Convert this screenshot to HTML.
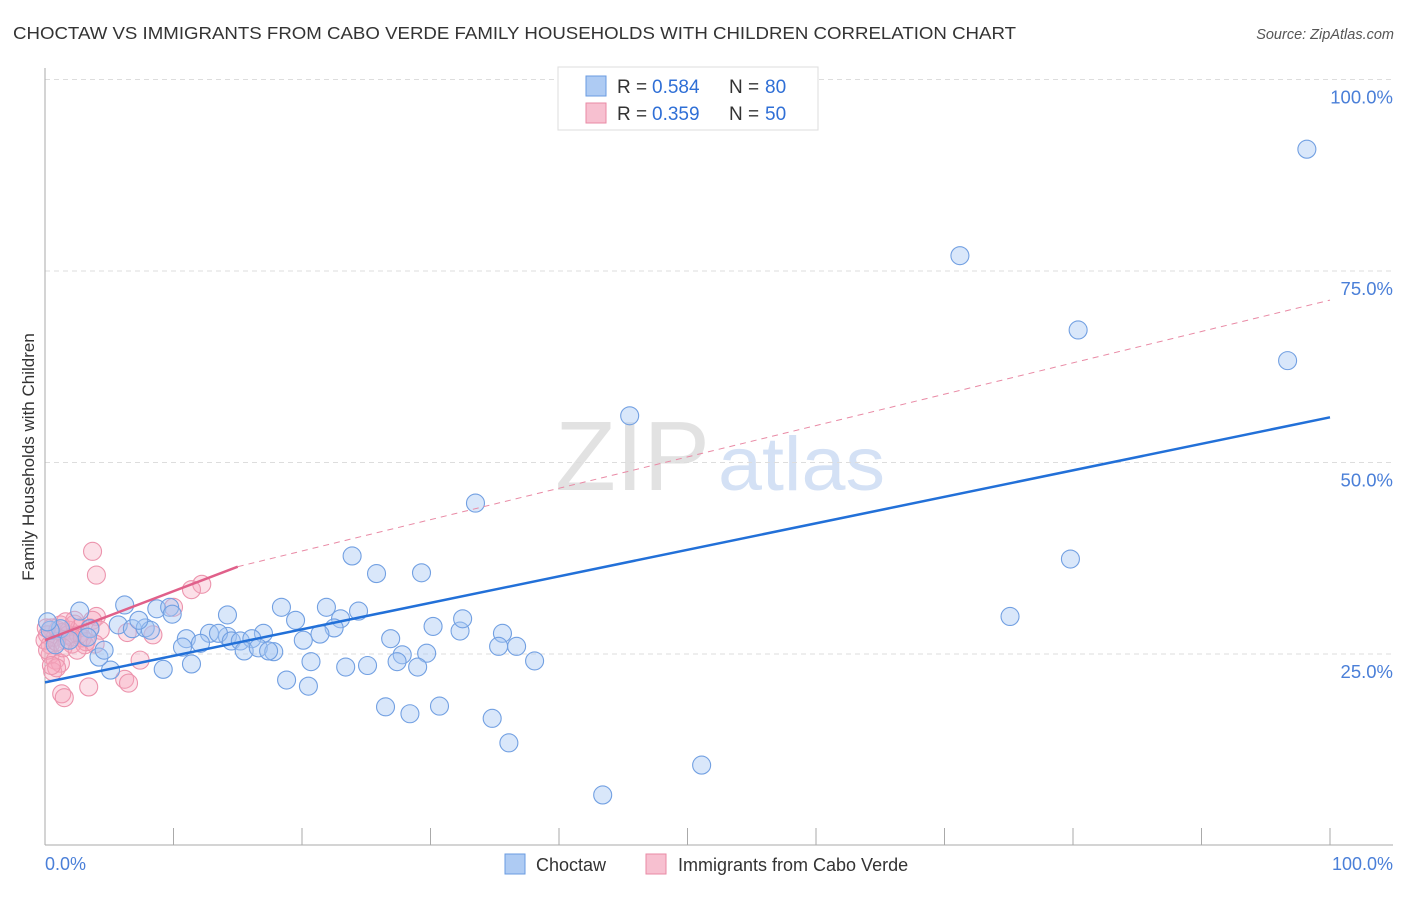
<!DOCTYPE html>
<html><head><meta charset="utf-8"><style>
body{margin:0;background:#fff;font-family:"Liberation Sans",sans-serif;}
svg text{font-family:"Liberation Sans",sans-serif;}
</style></head><body>
<svg id="chart" width="1406" height="892" xmlns="http://www.w3.org/2000/svg">
<text x="13" y="39" font-size="17.5" fill="#333" textLength="1003" lengthAdjust="spacingAndGlyphs">CHOCTAW VS IMMIGRANTS FROM CABO VERDE FAMILY HOUSEHOLDS WITH CHILDREN CORRELATION CHART</text>
<text x="1394" y="39" font-size="14.5" fill="#555" font-style="italic" text-anchor="end">Source: ZipAtlas.com</text>
<text x="555" y="490" font-size="98" fill="#e2e2e2" font-family="Liberation Serif" textLength="155" lengthAdjust="spacingAndGlyphs">ZIP</text>
<text x="718" y="490" font-size="76" fill="#d4e1f5" textLength="167" lengthAdjust="spacingAndGlyphs">atlas</text>
<g id="grid"></g>
<g id="axes"></g>
<g id="pink"></g>
<g id="blue"></g>
<g id="lines"></g>
<text transform="translate(34,457) rotate(-90)" font-size="17" fill="#333" text-anchor="middle">Family Households with Children</text>
<text x="45" y="870" font-size="18" fill="#4a7fd8">0.0%</text>
<text x="1393" y="870" font-size="18" fill="#4a7fd8" text-anchor="end">100.0%</text>
<g>
<rect x="558" y="67" width="260" height="63" fill="#fff" stroke="#ddd"/>
<rect x="586" y="76" width="20" height="20" fill="#aecbf3" stroke="#6a9be0"/>
<rect x="586" y="103" width="20" height="20" fill="#f7c0d0" stroke="#e98aa5"/>
<text x="617" y="93" font-size="19" fill="#333">R =</text>
<text x="652" y="93" font-size="19" fill="#2f6fd6">0.584</text>
<text x="729" y="93" font-size="19" fill="#333">N =</text>
<text x="765" y="93" font-size="19" fill="#2f6fd6">80</text>
<text x="617" y="120" font-size="19" fill="#333">R =</text>
<text x="652" y="120" font-size="19" fill="#2f6fd6">0.359</text>
<text x="729" y="120" font-size="19" fill="#333">N =</text>
<text x="765" y="120" font-size="19" fill="#2f6fd6">50</text>
</g>
<g>
<rect x="505" y="854" width="20" height="20" fill="#aecbf3" stroke="#6a9be0"/>
<text x="536" y="871" font-size="18" fill="#333">Choctaw</text>
<rect x="646" y="854" width="20" height="20" fill="#f7c0d0" stroke="#e98aa5"/>
<text x="678" y="871" font-size="18" fill="#333">Immigrants from Cabo Verde</text>
</g>
</svg>
<script>
const yTicks=[25,50,75,100];
const yTickLabels=["25.0%","50.0%","75.0%","100.0%"];
const xTicks=[0,10,20,30,40,50,60,70,80,90,100];
const blueX=[98.2,71.2,80.4,96.7,45.5,33.5,79.8,75.1,23.9,25.8,29.3,6.2,2.7,8.7,9.7,9.9,14.2,18.4,21.9,19.5,24.4,23.0,22.5,21.4,17.0,14.2,12.8,13.5,11.0,10.7,12.1,14.5,15.2,16.1,15.5,16.6,17.8,17.4,20.1,26.9,30.2,32.3,32.5,35.6,35.3,36.7,38.1,29.7,27.8,27.4,29.0,23.4,25.1,20.7,11.4,9.2,5.1,4.2,4.6,5.7,6.8,7.8,8.2,7.3,3.5,1.2,0.4,18.8,20.5,26.5,28.4,30.7,34.8,36.1,51.1,43.4,0.2,3.3,0.8,1.9];
const blueY=[90.9,77.0,67.3,63.3,56.1,44.7,37.4,29.9,37.8,35.5,35.6,31.4,30.6,30.9,31.1,30.2,30.1,31.1,31.1,29.4,30.6,29.6,28.4,27.6,27.7,27.3,27.7,27.7,27.0,25.9,26.4,26.7,26.7,27.0,25.4,25.8,25.3,25.4,26.8,27.0,28.6,28.0,29.6,27.7,26.0,26.0,24.1,25.1,24.9,24.0,23.3,23.3,23.5,24.0,23.7,23.0,22.9,24.6,25.5,28.8,28.3,28.4,28.1,29.4,28.3,28.3,28.1,21.6,20.8,18.1,17.2,18.2,16.6,13.4,10.5,6.6,29.2,27.2,26.2,26.8];
const pinkX=[3.7,4.0,12.2,10.0,11.4,4.0,3.7,2.3,1.2,0.5,0.2,0.8,1.3,1.9,2.7,1.6,2.1,3.1,0.4,0.4,0.8,1.2,0.6,0.9,7.4,6.2,6.5,3.4,1.3,1.5,8.4,6.4,4.3,3.5,2.6,0,0.2,1.0,1.8,2.3,2.9,3.2,1.6,2.1,0.9,0.1,1.4,2.5,0.5,3.9];
const pinkY=[38.4,35.3,34.1,31.1,33.4,29.9,29.4,29.4,28.8,28.4,27.5,27.2,27.8,28.1,28.4,26.8,26.3,26.2,26.2,24.9,24.2,23.8,22.7,23.2,24.2,21.7,21.2,20.7,19.8,19.3,27.5,27.8,28.1,28.4,27.5,26.8,25.5,28.1,27.5,28.9,27.1,26.6,29.2,27.2,26.6,28.4,25.8,25.5,23.5,26.3];
const blueTrend=[21.3,55.9];
const pinkTrend=[26.8,36.4,71.2];
const pinkSolidEnd=15;
const NS="http://www.w3.org/2000/svg";
const X=v=>45+v*12.85, Y=v=>845.5-v*7.66;
function mk(tag,attrs,parent){const e=document.createElementNS(NS,tag);for(const k in attrs)e.setAttribute(k,attrs[k]);parent.appendChild(e);return e;}
const grid=document.getElementById('grid'),axes=document.getElementById('axes');
yTicks.forEach((t,i)=>{
 const l=mk('line',{x1:45,x2:1393,y1:Y(t),y2:Y(t),stroke:'#ddd','stroke-dasharray':'5,4'},grid);
 
 
 const tx=mk('text',{x:1393,y:Y(t)+24,'font-size':18.5,fill:'#4a7fd8','text-anchor':'end'},grid);
 tx.textContent=yTickLabels[i];
 
 
});
const ya=mk('line',{x1:45,x2:45,y1:68,y2:845,stroke:'#aaa'},axes);


const xa=mk('line',{x1:45,x2:1393,y1:845,y2:845,stroke:'#aaa'},axes);


xTicks.forEach(t=>{const k=mk('line',{x1:X(t),x2:X(t),y1:828,y2:845,stroke:'#aaa'},axes);
 
 });
function dots(xs,ys,g,fill,stroke,name){xs.forEach((x,i)=>{const c=mk('circle',{cx:X(x),cy:Y(ys[i]),r:9,fill:fill,stroke:stroke,'stroke-width':1.1},g);
 
 });}
dots(pinkX,pinkY,document.getElementById('pink'),'rgba(245,165,190,0.35)','#ec94ad','cabo-verde-point');
dots(blueX,blueY,document.getElementById('blue'),'rgba(165,198,242,0.42)','#72a0e2','choctaw-point');
const lg=document.getElementById('lines');
const pd=mk('line',{x1:X(pinkSolidEnd),y1:Y(pinkTrend[1]),x2:X(100),y2:Y(pinkTrend[2]),stroke:'#e98aa5','stroke-width':1,'stroke-dasharray':'6,5'},lg);


const ps=mk('line',{x1:X(0),y1:Y(pinkTrend[0]),x2:X(pinkSolidEnd),y2:Y(pinkTrend[1]),stroke:'#e0608a','stroke-width':2.5},lg);


const bl=mk('line',{x1:X(0),y1:Y(blueTrend[0]),x2:X(100),y2:Y(blueTrend[1]),stroke:'#2270d8','stroke-width':2.5},lg);


</script>
</body></html>
